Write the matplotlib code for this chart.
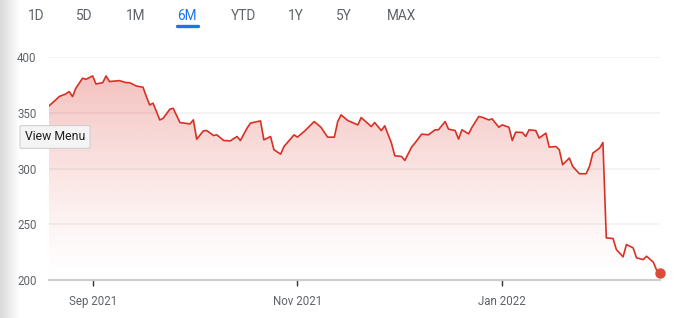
import numpy as np
import matplotlib
matplotlib.use("Agg")
import matplotlib.pyplot as plt
import matplotlib.dates as mdates
from matplotlib.colors import to_rgb
from matplotlib.patches import PathPatch
from matplotlib.lines import Line2D

# price, roughly every 1-2 days
dates = [
    "2021-08-19", "2021-08-21", "2021-08-22", "2021-08-24", "2021-08-25", "2021-08-26",
    "2021-08-27", "2021-08-29", "2021-08-30", "2021-09-01", "2021-09-02", "2021-09-04",
    "2021-09-05", "2021-09-06", "2021-09-09", "2021-09-11", "2021-09-12", "2021-09-14",
    "2021-09-16", "2021-09-17", "2021-09-18", "2021-09-19", "2021-09-21", "2021-09-22",
    "2021-09-24", "2021-09-25", "2021-09-27", "2021-09-30", "2021-10-01", "2021-10-02",
    "2021-10-04", "2021-10-05", "2021-10-07", "2021-10-08", "2021-10-10", "2021-10-12",
    "2021-10-14", "2021-10-15", "2021-10-17", "2021-10-18", "2021-10-21", "2021-10-22",
    "2021-10-24", "2021-10-25", "2021-10-27", "2021-10-28", "2021-10-31", "2021-11-01",
    "2021-11-03", "2021-11-06", "2021-11-08", "2021-11-10", "2021-11-12", "2021-11-13",
    "2021-11-14", "2021-11-16", "2021-11-19", "2021-11-20", "2021-11-23", "2021-11-24",
    "2021-11-26", "2021-11-27", "2021-11-29", "2021-11-30", "2021-12-02", "2021-12-03",
    "2021-12-05", "2021-12-06", "2021-12-08", "2021-12-10", "2021-12-12", "2021-12-13",
    "2021-12-15", "2021-12-16", "2021-12-18", "2021-12-19", "2021-12-20", "2021-12-22",
    "2021-12-23", "2021-12-25", "2021-12-26", "2021-12-28", "2021-12-29", "2021-12-31",
    "2022-01-01", "2022-01-03", "2022-01-04", "2022-01-05", "2022-01-07", "2022-01-08",
    "2022-01-09", "2022-01-11", "2022-01-12", "2022-01-14", "2022-01-15", "2022-01-17",
    "2022-01-18", "2022-01-19", "2022-01-21", "2022-01-22", "2022-01-24", "2022-01-26",
    "2022-01-27", "2022-01-28", "2022-01-30", "2022-01-31", "2022-02-01", "2022-02-03",
    "2022-02-04", "2022-02-06", "2022-02-07", "2022-02-09", "2022-02-10", "2022-02-12",
    "2022-02-13", "2022-02-15", "2022-02-16", "2022-02-17",
]
prices = [
    356.2, 361.5, 364.5, 366.9, 369.0, 364.5,
    372.0, 381.0, 380.0, 383.0, 375.8, 377.0,
    383.0, 378.0, 378.8, 377.0, 377.0, 374.0,
    372.9, 364.5, 357.0, 358.6, 343.6, 345.0,
    353.2, 354.0, 341.2, 340.0, 343.6, 326.3,
    333.8, 334.0, 329.6, 330.2, 325.1, 324.8,
    328.7, 325.1, 336.2, 340.7, 342.7, 325.7,
    328.7, 316.8, 312.9, 319.7, 330.2, 328.1,
    333.2, 342.1, 337.0, 328.1, 328.1, 342.1,
    348.1, 343.0, 339.1, 345.7, 337.6, 341.2,
    334.0, 338.3, 322.8, 311.4, 310.8, 307.2,
    319.2, 322.8, 330.8, 330.2, 334.7, 334.7,
    342.1, 335.3, 334.0, 326.3, 334.7, 331.1,
    337.0, 346.6, 346.0, 343.6, 344.5, 337.0,
    339.1, 337.0, 325.1, 332.6, 332.3, 328.7,
    334.7, 334.0, 327.3, 331.7, 319.2, 319.7,
    316.8, 303.4, 309.4, 301.8, 295.3, 295.3,
    301.8, 313.8, 318.3, 323.3, 237.8, 237.2,
    227.3, 220.8, 231.8, 228.8, 219.9, 218.3,
    221.3, 216.0, 208.8, 206.4,
]
y_ticks = [200, 250, 300, 350, 400]
x_ticks = ["2021-09-01", "2021-11-01", "2022-01-01"]
ranges = ["1D", "5D", "1M", "6M", "YTD", "1Y", "5Y", "MAX"]
active_range = "6M"

plt.rcParams['font.family'] = ['Roboto', 'DejaVu Sans']

W, H = 693, 318
fig = plt.figure(figsize=(W / 100, H / 100), dpi=100)
fig.patch.set_facecolor("white")

x = mdates.date2num(np.array(dates, dtype="datetime64[D]"))
x0 = mdates.date2num(np.datetime64("2021-08-19"))
x1 = mdates.date2num(np.datetime64("2022-02-17"))

ax = fig.add_axes([49 / W, (H - 280) / H, (660 - 49) / W, (280 - 57) / H])
ax.set_facecolor("none")

red = "#d93025"

# gradient fill under the line
area = ax.fill_between(x, prices, 200, color="none", linewidth=0)
clip = PathPatch(area.get_paths()[0], transform=ax.transData, facecolor="none", edgecolor="none")
ax.add_patch(clip)
g = np.linspace(0, 1, 256)
rgba = np.zeros((256, 1, 4))
rgba[..., :3] = to_rgb(red)
rgba[:, 0, 3] = 0.33 * g ** 1.3
im = ax.imshow(rgba, extent=[x0, x1, 200, 400], origin="lower", aspect="auto", zorder=1)
im.set_clip_path(clip)

ax.plot(x, prices, color=red, lw=1.2, zorder=3, solid_joinstyle="round")
ax.plot(x[-1], prices[-1], "o", color="#dc4a38", ms=7.5, zorder=4, mec="none", clip_on=False)

ax.set_xlim(x0, x1)
ax.set_ylim(200, 400)
ax.set_yticks(y_ticks)
for yv in y_ticks[1:]:
    ax.axhline(yv, color="#f1f1f1", lw=1.2, zorder=0)

ax.set_xticks(mdates.date2num(np.array(x_ticks, dtype="datetime64[D]")))
ax.xaxis.set_major_formatter(mdates.DateFormatter("%b %Y"))
ax.tick_params(axis="x", length=4, width=1, color="#333333", labelsize=8.3,
               labelcolor="#5f6368", pad=7)
ax.tick_params(axis="y", length=0, labelsize=8.3, labelcolor="#5f6368", pad=9)
for s in ["top", "right", "left"]:
    ax.spines[s].set_visible(False)
ax.spines["bottom"].set_color("#cccccc")
ax.spines["bottom"].set_linewidth(1.5)

# range selector tabs
tab_x = [36, 84, 136, 187, 243, 296, 344, 401]
for name, tx in zip(ranges, tab_x):
    col = "#1a73e8" if name == active_range else "#5f6368"
    fig.text(tx / W, 1 - 16 / H, name, ha="center", va="center", fontsize=9.8, color=col)
fig.add_artist(Line2D([177 / W, 198 / W], [1 - 26 / H, 1 - 26 / H], color="#1a73e8",
                      lw=2.4, solid_capstyle="round"))

# shaded left edge of the screenshot
sh = fig.add_axes([0, 0, 20 / W, 1], zorder=-1)
shade = np.linspace(0.76, 1.0, 64) ** 0.6
sh.imshow(np.tile(shade, (2, 1)), cmap="gray", vmin=0, vmax=1, aspect="auto",
          extent=[0, 1, 0, 1])
sh.axis("off")

# tooltip left on the chart
fig.text(55 / W, 1 - 137 / H, "View Menu", ha="center", va="center", fontsize=8.8,
         color="#202020", zorder=10,
         bbox=dict(boxstyle="round,pad=0.4,rounding_size=0.15", fc="#f4f4f4",
                   ec="#cfcfcf", lw=0.8))

fig.savefig("out.png", dpi=100)
